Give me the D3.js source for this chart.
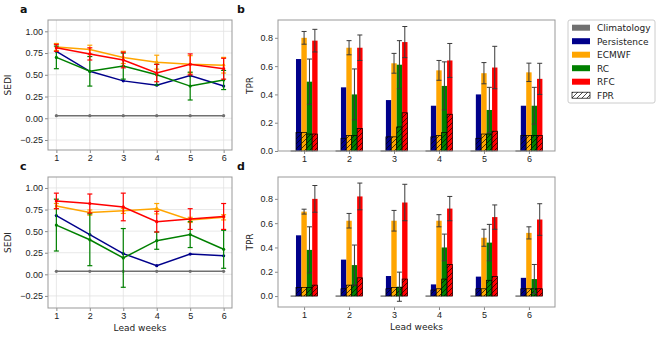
<!DOCTYPE html>
<html lang="en">
<head>
<meta charset="UTF-8">
<title>SEDI and TPR by lead week</title>
<script src="https://d3js.org/d3.v7.min.js"></script>
<style>
    body { margin: 0; background: #fff; }
    svg { display: block; font-family: "DejaVu Sans", sans-serif; }
    .tick text { font-size: 9px; fill: #222; }
    .tick line { stroke: #888; }
    .domain { display: none; }
    .grid line { stroke: #e2e2e2; stroke-width: 0.8; }
    .frame { fill: none; stroke: #999; stroke-width: 1; }
    .panel-label { font-size: 11px; font-weight: bold; fill: #111; }
    .axis-label { font-size: 9px; fill: #222; }
    .legend text { font-size: 9px; fill: #222; }
</style>
</head>
<body>
<svg id="chart" width="660" height="337"></svg>
<script>
    // lead weeks and model names
    const weeks = [1, 2, 3, 4, 5, 6];
    const models = ["Climatology", "Persistence", "ECMWF", "RC", "RFC"];
    const modelColors = ["#707070", "#00008b", "#ffa500", "#008000", "#ff0000"];

    // panel a - SEDI
    const aClim = [0.03, 0.03, 0.03, 0.03, 0.03, 0.03];
    const aPers = [0.77, 0.54, 0.43, 0.38, 0.49, 0.37];
    const aEcmwf = [0.82, 0.79, 0.70, 0.645, 0.62, 0.61];
    const aEcmwfErr = [0.04, 0.05, 0.07, 0.08, 0.10, 0.09];
    const aRc = [0.70, 0.54, 0.60, 0.50, 0.37, 0.44];
    const aRcErr = [0.13, 0.17, 0.15, 0.12, 0.16, 0.11];
    const aRfc = [0.81, 0.74, 0.67, 0.52, 0.62, 0.57];
    const aRfcErr = [0.04, 0.07, 0.09, 0.10, 0.12, 0.12];

    // panel c - SEDI
    const cClim = [0.035, 0.035, 0.035, 0.035, 0.035, 0.035];
    const cPers = [0.68, 0.46, 0.24, 0.10, 0.235, 0.215];
    const cEcmwf = [0.79, 0.715, 0.735, 0.76, 0.63, 0.66];
    const cEcmwfErr = [0.03, 0.03, 0.03, 0.06, 0.03, 0.03];
    const cRc = [0.57, 0.40, 0.19, 0.39, 0.46, 0.29];
    const cRcErr = [0.30, 0.30, 0.34, 0.10, 0.15, 0.22];
    const cRfc = [0.85, 0.82, 0.78, 0.61, 0.64, 0.67];
    const cRfcErr = [0.09, 0.11, 0.16, 0.12, 0.12, 0.15];

    // panel b - TPR bars, FPR hatched
    const bClim = [0, 0, 0, 0, 0, 0];
    const bPers = [0.65, 0.45, 0.36, 0.32, 0.40, 0.32];
    const bEcmwf = [0.80, 0.73, 0.62, 0.57, 0.55, 0.556];
    const bEcmwfErr = [0.045, 0.05, 0.07, 0.07, 0.075, 0.065];
    const bRc = [0.49, 0.40, 0.61, 0.46, 0.29, 0.32];
    const bRcErr = [0.16, 0.18, 0.17, 0.17, 0.16, 0.13];
    const bRfc = [0.78, 0.73, 0.77, 0.64, 0.59, 0.51];
    const bRfcErr = [0.08, 0.09, 0.11, 0.12, 0.15, 0.11];
    const bFprPers = [0.13, 0.09, 0.10, 0.10, 0.09, 0.11];
    const bFprEcmwf = [0.13, 0.11, 0.10, 0.11, 0.12, 0.11];
    const bFprRc = [0.12, 0.11, 0.17, 0.13, 0.12, 0.11];
    const bFprRfc = [0.12, 0.16, 0.27, 0.26, 0.14, 0.11];

    // panel d - TPR bars, FPR hatched
    const dClim = [0, 0, 0, 0, 0, 0];
    const dPers = [0.50, 0.30, 0.165, 0.096, 0.16, 0.15];
    const dEcmwf = [0.695, 0.62, 0.62, 0.62, 0.48, 0.52];
    const dEcmwfErr = [0.02, 0.06, 0.085, 0.05, 0.07, 0.05];
    const dRc = [0.38, 0.255, 0.077, 0.40, 0.44, 0.14];
    const dRcErr = [0.19, 0.165, 0.12, 0.11, 0.15, 0.12];
    const dRfc = [0.80, 0.82, 0.77, 0.72, 0.65, 0.63];
    const dRfcErr = [0.11, 0.11, 0.15, 0.10, 0.10, 0.13];
    const dFprPers = [0.07, 0.06, 0.06, 0.05, 0.06, 0.06];
    const dFprEcmwf = [0.07, 0.09, 0.07, 0.06, 0.06, 0.06];
    const dFprRc = [0.07, 0.09, 0.07, 0.14, 0.13, 0.06];
    const dFprRfc = [0.09, 0.15, 0.14, 0.26, 0.16, 0.06];

    const sediTicks = [-0.25, 0, 0.25, 0.5, 0.75, 1.0];
    const tprTicks = [0, 0.2, 0.4, 0.6, 0.8];

    const svg = d3.select("#chart");

    // hatch pattern for the FPR bars
    svg.append("defs").append("pattern")
        .attr("id", "hatch")
        .attr("patternUnits", "userSpaceOnUse")
        .attr("width", 5).attr("height", 5)
        .append("path")
        .attr("d", "M-1,1 l2,-2 M0,5 l5,-5 M4,6 l2,-2")
        .attr("stroke", "#000").attr("stroke-width", 0.7);

    // line panel (a, c)
    function linePanel(box, yDomain, series, errs, label, showXLabel) {
        const x = d3.scaleLinear().domain([0.75, 6.25]).range([box.x0, box.x1]);
        const y = d3.scaleLinear().domain(yDomain).range([box.y1, box.y0]);
        const g = svg.append("g");

        // grid
        g.append("g").attr("class", "grid")
            .selectAll("line").data(weeks).join("line")
            .attr("x1", d => x(d)).attr("x2", d => x(d))
            .attr("y1", box.y0).attr("y2", box.y1);
        g.append("g").attr("class", "grid")
            .selectAll("line").data(sediTicks).join("line")
            .attr("y1", d => y(d)).attr("y2", d => y(d))
            .attr("x1", box.x0).attr("x2", box.x1);

        g.append("g").attr("transform", `translate(0,${box.y1})`)
            .call(d3.axisBottom(x).tickValues(weeks).tickFormat(d3.format("d")).tickSize(3).tickPadding(2));
        g.append("g").attr("transform", `translate(${box.x0},0)`)
            .call(d3.axisLeft(y).tickValues(sediTicks).tickFormat(d => d3.format(".2f")(d).replace("-", "\u2212")).tickSize(3).tickPadding(2));

        series.forEach((vals, k) => {
            const col = modelColors[k];
            const err = errs[k];
            if (err) {
                const eg = g.append("g").attr("stroke", col).attr("stroke-width", 1.2);
                weeks.forEach((w, i) => {
                    const cx = x(w);
                    eg.append("line").attr("x1", cx).attr("x2", cx)
                        .attr("y1", y(vals[i] - err[i])).attr("y2", y(vals[i] + err[i]));
                    [vals[i] - err[i], vals[i] + err[i]].forEach(v => {
                        eg.append("line").attr("x1", cx - 2.5).attr("x2", cx + 2.5)
                            .attr("y1", y(v)).attr("y2", y(v));
                    });
                });
            }
            g.append("path")
                .datum(vals)
                .attr("fill", "none").attr("stroke", col).attr("stroke-width", 1.5)
                .attr("d", d3.line().x((d, i) => x(weeks[i])).y(d => y(d)));
            g.append("g").selectAll("circle").data(vals).join("circle")
                .attr("cx", (d, i) => x(weeks[i])).attr("cy", d => y(d))
                .attr("r", 1.6).attr("fill", col);
        });

        g.append("rect").attr("class", "frame")
            .attr("x", box.x0).attr("y", box.y0)
            .attr("width", box.x1 - box.x0).attr("height", box.y1 - box.y0);

        g.append("text").attr("class", "panel-label")
            .attr("x", box.x0 - 28).attr("y", box.y0 - 7).text(label);
        g.append("text").attr("class", "axis-label")
            .attr("transform", `translate(${box.x0 - 37},${(box.y0 + box.y1) / 2}) rotate(-90)`)
            .attr("text-anchor", "middle").text("SEDI");
        if (showXLabel) {
            g.append("text").attr("class", "axis-label")
                .attr("x", (box.x0 + box.x1) / 2).attr("y", box.y1 + 23)
                .attr("text-anchor", "middle").text("Lead weeks");
        }
    }

    // bar panel (b, d)
    function barPanel(box, yDomain, tpr, errs, fpr, label, showXLabel) {
        const bw = 0.12;
        const x = d3.scaleLinear().domain([0.42, 6.58]).range([box.x0, box.x1]);
        const y = d3.scaleLinear().domain(yDomain).range([box.y1, box.y0]);
        const g = svg.append("g");
        const pxW = x(bw) - x(0);

        g.append("g").attr("transform", `translate(0,${box.y1})`)
            .call(d3.axisBottom(x).tickValues(weeks).tickFormat(d3.format("d")).tickSize(3).tickPadding(2));
        g.append("g").attr("transform", `translate(${box.x0},0)`)
            .call(d3.axisLeft(y).tickValues(tprTicks).tickFormat(d3.format(".1f")).tickSize(3).tickPadding(2));

        tpr.forEach((vals, k) => {
            const off = (k - 2) * bw;
            const col = modelColors[k];
            // TPR bars
            g.append("g").selectAll("rect").data(vals).join("rect")
                .attr("x", (d, i) => x(weeks[i] + off) - pxW / 2)
                .attr("width", pxW)
                .attr("y", d => y(d))
                .attr("height", d => y(0) - y(d))
                .attr("fill", col);
            // FPR hatched bars
            const fg = g.append("g");
            fpr[k].forEach((v, i) => {
                const bx = x(weeks[i] + off) - pxW / 2;
                if (v > 0) {
                    fg.append("rect").attr("x", bx).attr("width", pxW)
                        .attr("y", y(v)).attr("height", y(0) - y(v)).attr("fill", col);
                    fg.append("rect").attr("x", bx).attr("width", pxW)
                        .attr("y", y(v)).attr("height", y(0) - y(v))
                        .attr("fill", "url(#hatch)").attr("stroke", "#000").attr("stroke-width", 0.7);
                } else {
                    fg.append("line").attr("x1", bx).attr("x2", bx + pxW)
                        .attr("y1", y(v)).attr("y2", y(v))
                        .attr("stroke", "#000").attr("stroke-width", 0.8);
                }
            });
            // error bars
            if (errs[k]) {
                const eg = g.append("g").attr("stroke", "#3a3a3a").attr("stroke-width", 1);
                vals.forEach((v, i) => {
                    const cx = x(weeks[i] + off);
                    const lo = v - errs[k][i], hi = v + errs[k][i];
                    eg.append("line").attr("x1", cx).attr("x2", cx).attr("y1", y(lo)).attr("y2", y(hi));
                    [lo, hi].forEach(e => {
                        eg.append("line").attr("x1", cx - 2.5).attr("x2", cx + 2.5)
                            .attr("y1", y(e)).attr("y2", y(e));
                    });
                });
            }
        });

        g.append("rect").attr("class", "frame")
            .attr("x", box.x0).attr("y", box.y0)
            .attr("width", box.x1 - box.x0).attr("height", box.y1 - box.y0);

        g.append("text").attr("class", "panel-label")
            .attr("x", box.x0 - 41).attr("y", box.y0 - 7).text(label);
        g.append("text").attr("class", "axis-label")
            .attr("transform", `translate(${box.x0 - 25},${(box.y0 + box.y1) / 2}) rotate(-90)`)
            .attr("text-anchor", "middle").text("TPR");
        if (showXLabel) {
            g.append("text").attr("class", "axis-label")
                .attr("x", (box.x0 + box.x1) / 2).attr("y", box.y1 + 23)
                .attr("text-anchor", "middle").text("Lead weeks");
        }
    }

    linePanel({ x0: 48, x1: 232, y0: 20, y1: 150 }, [-0.365, 1.13],
        [aClim, aPers, aEcmwf, aRc, aRfc], [null, null, aEcmwfErr, aRcErr, aRfcErr], "a", false);
    linePanel({ x0: 48, x1: 232, y0: 177, y1: 308 }, [-0.39, 1.127],
        [cClim, cPers, cEcmwf, cRc, cRfc], [null, null, cEcmwfErr, cRcErr, cRfcErr], "c", true);
    barPanel({ x0: 278, x1: 555, y0: 20, y1: 151 }, [0, 0.926],
        [bClim, bPers, bEcmwf, bRc, bRfc], [null, null, bEcmwfErr, bRcErr, bRfcErr],
        [bClim, bFprPers, bFprEcmwf, bFprRc, bFprRfc], "b", false);
    barPanel({ x0: 278, x1: 555, y0: 177, y1: 307 }, [-0.09, 0.98],
        [dClim, dPers, dEcmwf, dRc, dRfc], [null, null, dEcmwfErr, dRcErr, dRfcErr],
        [dClim, dFprPers, dFprEcmwf, dFprRc, dFprRfc], "d", true);

    // legend
    const legendItems = models.concat(["FPR"]);
    const lg = svg.append("g").attr("class", "legend");
    lg.append("rect").attr("x", 568).attr("y", 20).attr("width", 87).attr("height", 83)
        .attr("rx", 2).attr("fill", "#fff").attr("stroke", "#ccc");
    legendItems.forEach((name, i) => {
        const cy = 27.7 + i * 13.5;
        if (name === "FPR") {
            lg.append("rect").attr("x", 572).attr("y", cy - 3).attr("width", 18).attr("height", 6)
                .attr("fill", "url(#hatch)").attr("stroke", "#000").attr("stroke-width", 0.7);
        } else {
            lg.append("rect").attr("x", 572).attr("y", cy - 3).attr("width", 18).attr("height", 6)
                .attr("fill", modelColors[i]);
        }
        lg.append("text").attr("x", 597).attr("y", cy + 3.3).text(name);
    });
</script>
</body>
</html>
